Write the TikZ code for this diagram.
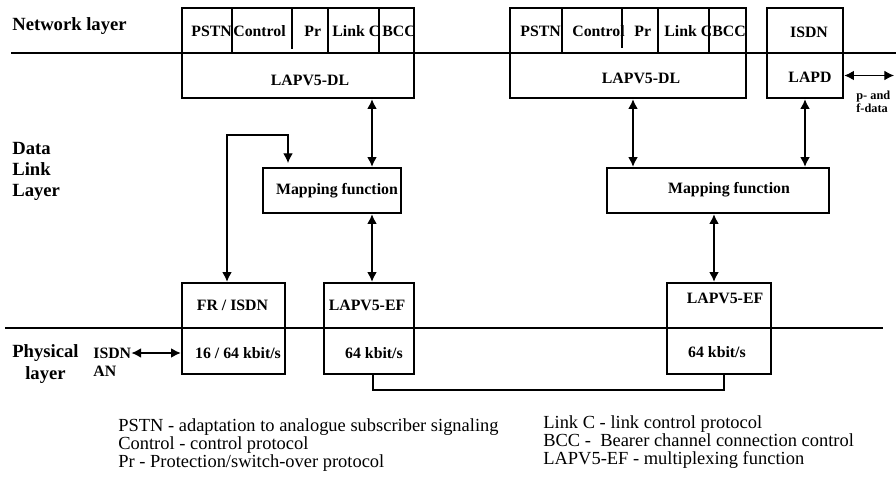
\documentclass[tikz,border=0pt]{standalone}
\usepackage{fontspec}
\setmainfont{Liberation Serif}
\usetikzlibrary{arrows.meta,positioning}

\begin{document}
\begin{tikzpicture}
\tikzstyle{blk}=[draw,line width=1.5pt,inner sep=0,minimum height=0.9cm];
\tikzstyle{lbl}=[inner sep=0,font={\fontsize{9}{10}\selectfont\bfseries}];
\tikzstyle{lay}=[inner sep=0,anchor=west,font={\fontsize{10.6}{12}\selectfont\bfseries}];
\tikzstyle{note}=[inner sep=0,anchor=west,align=left,font={\fontsize{10.5}{10.4}\selectfont}];
\tikzstyle{thin}=[line width=0.6pt];
\tikzstyle{dbl}=[line width=0.6pt,{Latex[length=5.5pt,width=5.5pt]}-{Latex[length=5.5pt,width=5.5pt]}];

\useasboundingbox (0,0) rectangle (17.92,-9.58);

% layer borders
\draw[thin] (0.22,-1.06) -- (17.92,-1.06);
\draw[thin] (0.1,-6.56) -- (17.66,-6.56);

\node[lay] (net) at (0.24,-0.52) {Network layer};
\node[lay,align=left] (dll) at (0.24,-3.42) {Data\\Link\\Layer};
\node[lay,align=center] (phy) at (0.24,-7.28) {Physical\\layer};

\begin{scope}
  % boxes
  \node[blk,minimum width=4.64cm] (nl1) at (5.96,-0.61) {};
  \node[blk,minimum width=4.64cm] (dl1) at (5.96,-1.51) {};
  \node[blk,minimum width=4.72cm] (nl2) at (12.56,-0.61) {};
  \node[blk,minimum width=4.72cm] (dl2) at (12.56,-1.51) {};
  \node[blk,minimum width=1.52cm] (isdn) at (16.1,-0.61) {};
  \node[blk,minimum width=1.52cm] (lapd) at (16.1,-1.51) {};

  \node[blk,minimum width=2.76cm] (map1) at (6.64,-3.81) {};
  \node[blk,minimum width=4.44cm] (map2) at (14.36,-3.81) {};

  \node[blk,minimum width=2.06cm] (fr) at (4.67,-6.11) {};
  \node[blk,minimum width=2.06cm,minimum height=0.92cm] (frrate) at (4.67,-7.02) {};
  \node[blk,minimum width=1.8cm] (ef1) at (7.38,-6.11) {};
  \node[blk,minimum width=1.8cm,minimum height=0.92cm] (ef1rate) at (7.38,-7.02) {};
  \node[blk,minimum width=2.08cm] (ef2) at (14.38,-6.11) {};
  \node[blk,minimum width=2.08cm,minimum height=0.92cm] (ef2rate) at (14.38,-7.02) {};

  % cell dividers
  \foreach \x in {4.64,6.56,7.58,11.24,13.16,14.18}
    \draw[thin] (\x,-0.16) -- (\x,-1.06);
  \draw[thin] (5.84,-0.16) -- (5.84,-0.98);
  \draw[thin] (12.44,-0.16) -- (12.44,-0.96);

  % cell texts
  \node[lbl,anchor=west] (pstn1) at (3.82,-0.62) {PSTN};
  \node[lbl,anchor=west] (ctrl1) at (4.66,-0.62) {Control};
  \node[lbl,anchor=west] (pr1) at (6.08,-0.62) {Pr};
  \node[lbl,anchor=west] (lnk1) at (6.64,-0.62) {Link C};
  \node[lbl,anchor=west] (bcc1) at (7.64,-0.62) {BCC};
  \node[lbl,anchor=west] (pstn2) at (10.4,-0.62) {PSTN};
  \node[lbl,anchor=west] (ctrl2) at (11.44,-0.62) {Control};
  \node[lbl,anchor=west] (pr2) at (12.68,-0.62) {Pr};
  \node[lbl,anchor=west] (lnk2) at (13.28,-0.62) {Link C};
  \node[lbl,anchor=west] (bcc2) at (14.24,-0.62) {BCC};
  \node[lbl] (isdnt) at (16.18,-0.64) {ISDN};

  \node[lbl] (dl1t) at (6.2,-1.6) {LAPV5-DL};
  \node[lbl] (dl2t) at (12.82,-1.56) {LAPV5-DL};
  \node[lbl] (lapdt) at (16.2,-1.55) {LAPD};
  \node[lbl] (map1t) at (6.74,-3.82) {Mapping function};
  \node[lbl] (map2t) at (14.58,-3.8) {Mapping function};
  \node[lbl] (frt) at (4.65,-6.1) {FR / ISDN};
  \node[lbl] (frratet) at (4.76,-7.06) {16 / 64 kbit/s};
  \node[lbl] (ef1t) at (7.34,-6.1) {LAPV5-EF};
  \node[lbl] (ef1ratet) at (7.48,-7.06) {64 kbit/s};
  \node[lbl] (ef2t) at (14.5,-5.96) {LAPV5-EF};
  \node[lbl] (ef2ratet) at (14.34,-7.04) {64 kbit/s};

  \node[lbl,anchor=west] (isdnan) at (1.86,-7.06) {ISDN};
  \node[lbl,anchor=west] (an) at (1.86,-7.42) {AN};
  \node[inner sep=0,anchor=west,align=left,font={\fontsize{7}{7.5}\selectfont\bfseries}] (pf) at (17.12,-2.03) {p- and\\f-data};
\end{scope}

% connectors
\coordinate (pfend) at (17.88,0);
\coordinate (mapin) at (5.76,-3.26);
\coordinate (bend) at (4.54,-2.7);
\draw[dbl] (7.44,0 |- dl1.south) -- (7.44,0 |- map1.north);
\draw[dbl] (12.66,0 |- dl2.south) -- (12.66,0 |- map2.north);
\draw[dbl] (lapd.south) -- (lapd.south |- map2.north);
\draw[dbl] (7.44,0 |- map1.south) -- (7.44,0 |- ef1.north);
\draw[dbl] (14.28,0 |- map2.south) -- (14.28,0 |- ef2.north);
\draw[dbl] (mapin) |- (bend) -- (bend |- fr.north);
\draw[dbl] (lapd.east) -- (lapd.east -| pfend);
\draw[dbl] (isdnan.east) -- (isdnan.east -| frrate.west);
\draw[thin] (7.46,0 |- ef1rate.south) |- (14.48,-7.8) -- (14.48,0 |- ef2rate.south);

% legend
\node[note] (legl) at (2.36,-8.9) {PSTN - adaptation to analogue subscriber signaling\\Control - control protocol\\Pr - Protection/switch-over protocol};
\node[note] (legr) at (10.86,-8.84) {Link C - link control protocol\\BCC -\ \ Bearer channel connection control\\LAPV5-EF - multiplexing function};

\end{tikzpicture}
\end{document}
